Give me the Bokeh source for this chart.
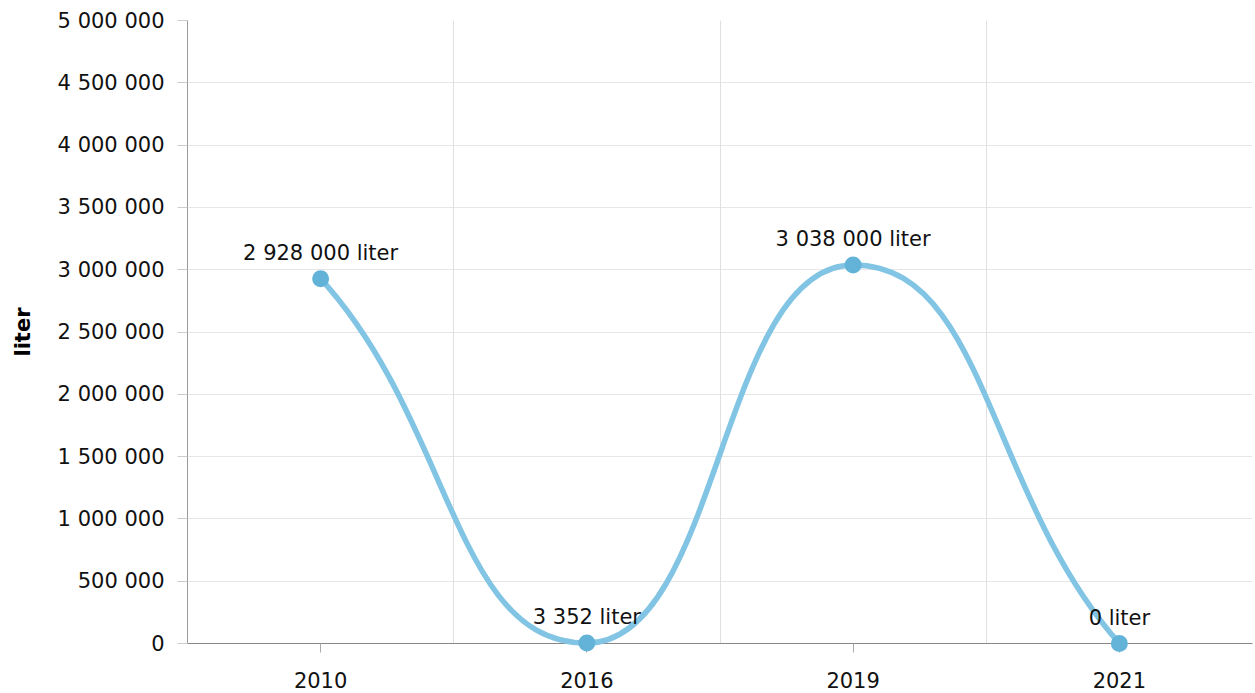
import numpy as np
from bokeh.plotting import figure
from bokeh.models import (FixedTicker, CustomJSTickFormatter, ColumnDataSource,
                          LabelSet, Grid, Range1d)
from bokeh.core.properties import value
from bokeh.embed import file_html
from bokeh.resources import INLINE

# ---- data ----
years = ["2010", "2016", "2019", "2021"]
values = [2928000, 3352, 3038000, 0]
unit = "liter"
y_ticks = [0, 500000, 1000000, 1500000, 2000000, 2500000,
           3000000, 3500000, 4000000, 4500000, 5000000]

FONT = "DejaVu Sans"
LINE_COLOR = "#82c4e3"
MARKER_COLOR = "#63b3d9"


def fmt(v):
    return f"{v:,}".replace(",", " ")


labels = [f"{fmt(v)} {unit}" for v in values]
xs = list(range(len(values)))


def smooth_controls(xs, ys, handle=0.5, end_slope=0.8):
    """Cubic segments; horizontal tangents at local extrema,
    Catmull-Rom-like slopes elsewhere, damped secant slopes at the ends."""
    n = len(xs)
    slopes = []
    for i in range(n):
        if i == 0:
            slopes.append(end_slope * (ys[1] - ys[0]) / (xs[1] - xs[0]))
        elif i == n - 1:
            slopes.append(end_slope * (ys[-1] - ys[-2]) / (xs[-1] - xs[-2]))
        else:
            d0 = ys[i] - ys[i - 1]
            d1 = ys[i + 1] - ys[i]
            if d0 * d1 <= 0:
                slopes.append(0.0)
            else:
                slopes.append((ys[i + 1] - ys[i - 1]) / (xs[i + 1] - xs[i - 1]))
    seg = dict(x0=[], y0=[], x1=[], y1=[], cx0=[], cy0=[], cx1=[], cy1=[])
    for i in range(n - 1):
        h = (xs[i + 1] - xs[i]) * handle
        seg["x0"].append(xs[i]); seg["y0"].append(ys[i])
        seg["x1"].append(xs[i + 1]); seg["y1"].append(ys[i + 1])
        seg["cx0"].append(xs[i] + h); seg["cy0"].append(ys[i] + h * slopes[i])
        seg["cx1"].append(xs[i + 1] - h); seg["cy1"].append(ys[i + 1] - h * slopes[i + 1])
    return seg


seg = smooth_controls(xs, values)

p = figure(width=1254, height=691, output_backend="svg", toolbar_location=None,
           x_range=Range1d(-0.5, len(years) - 0.5), y_range=Range1d(y_ticks[0], y_ticks[-1]),
           min_border_left=187, min_border_right=2, min_border_top=20, min_border_bottom=48)
p.outline_line_color = None
p.background_fill_color = "white"
p.border_fill_color = "white"

# grids
p.xgrid.visible = False
p.ygrid.ticker = FixedTicker(ticks=y_ticks)
p.ygrid.grid_line_color = "#e6e6e6"
p.ygrid.grid_line_width = 1
vgrid = Grid(dimension=0, ticker=FixedTicker(ticks=[i + 0.5 for i in xs]),
             grid_line_color="#e0e0e0", grid_line_width=1)
p.add_layout(vgrid)

# x axis
xa = p.xaxis[0]
xa.ticker = FixedTicker(ticks=xs)
xa.major_label_overrides = {i: y for i, y in zip(xs, years)}
xa.axis_line_color = "#888888"
xa.axis_line_width = 1
xa.major_tick_line_color = "#aaaaaa"
xa.major_tick_in = 0
xa.major_tick_out = 9
xa.minor_tick_line_color = None
xa.major_label_text_font = FONT
xa.major_label_text_font_size = "21px"
xa.major_label_text_color = "#111111"
xa.major_label_standoff = 19

# y axis
ya = p.yaxis[0]
ya.ticker = FixedTicker(ticks=y_ticks)
ya.formatter = CustomJSTickFormatter(
    code='return Math.round(tick).toString().replace(/\\B(?=(\\d{3})+(?!\\d))/g, " ");')
ya.axis_line_color = "#999999"
ya.major_tick_line_color = "#cccccc"
ya.major_tick_in = 0
ya.major_tick_out = 10
ya.minor_tick_line_color = None
ya.major_label_text_font = FONT
ya.major_label_text_font_size = "21px"
ya.major_label_text_color = "#111111"
ya.major_label_standoff = 13
ya.axis_label = unit
ya.axis_label_text_font = FONT
ya.axis_label_text_font_size = "21px"
ya.axis_label_text_font_style = "bold"
ya.axis_label_text_color = "#000000"
ya.axis_label_standoff = 20

# curve
curve = p.bezier(x0="x0", y0="y0", x1="x1", y1="y1", cx0="cx0", cy0="cy0",
                 cx1="cx1", cy1="cy1", source=ColumnDataSource(seg),
                 line_color=LINE_COLOR, line_width=5.5, line_cap="round")
curve.level = "overlay"

src = ColumnDataSource(dict(x=xs, y=values, label=labels))
pts = p.scatter("x", "y", source=src, size=17, fill_color=MARKER_COLOR,
                line_color=MARKER_COLOR, line_width=0)
pts.level = "overlay"

lbl = LabelSet(x="x", y="y", text="label", source=src, text_align="center",
               text_baseline="alphabetic", y_offset=19, text_font=value(FONT),
               text_font_size="21px", text_color="#111111", level="overlay")
p.add_layout(lbl)

open("out.html", "w").write(file_html(p, INLINE))
